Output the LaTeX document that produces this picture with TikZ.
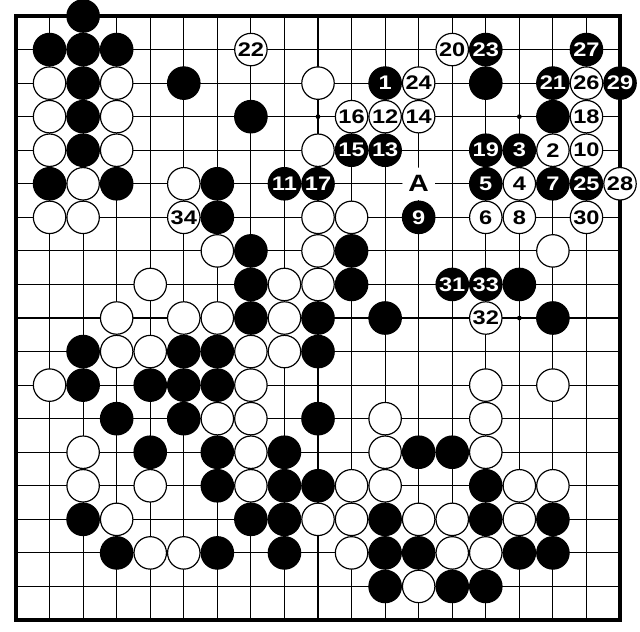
\documentclass[tikz,border=0pt]{standalone}
\usepackage{fontspec}
\setsansfont{Liberation Sans}[FakeStretch=1.2]
\usepackage{tikz}

\begin{document}
\begin{tikzpicture}[
    x=0.6cm, y=-0.6cm,
    gridline/.style={line width=0.6pt},
    border/.style={line width=1.7pt},
    every node/.style={font=\sffamily\bfseries\fontsize{10}{10}\selectfont,
circle, inner sep=0pt, minimum size=0.58cm},
    bstone/.style={fill=black, draw=black, line width=0.6pt, text=white},
    wstone/.style={fill=white, draw=black, line width=0.6pt, text=black},
    hoshi/.style={fill=black, minimum size=2.4pt},
    marker/.style={fill=white, font=\sffamily\bfseries\fontsize{12}{12}\selectfont}]

    \useasboundingbox (-0.477,-0.477) rectangle (18.596,18.33);

    % board
    \foreach \i in {0,...,18} {
        \draw[gridline] (\i,0) -- (\i,18);
        \draw[gridline] (0,\i) -- (18,\i);
    }
    \draw[border] (0,0) rectangle (18,18);
    \foreach \c/\r in {3/3,9/3,15/3,3/9,9/9,15/9,3/15,9/15,15/15}
        \node[hoshi] (h\c-\r) at (\c,\r) {};

    % stones already on the board
    \foreach \c/\r in {2/0, 1/1,2/1,3/1, 2/2,5/2,14/2, 2/3,7/3,16/3, 2/4,
        1/5,3/5,6/5, 6/6, 7/7,10/7, 7/8,10/8,15/8, 7/9,9/9,11/9,16/9,
        2/10,5/10,6/10,9/10, 2/11,4/11,5/11,6/11, 3/12,5/12,9/12,
        4/13,6/13,8/13,12/13,13/13, 6/14,8/14,9/14,14/14,
        2/15,7/15,8/15,11/15,14/15,16/15,
        3/16,6/16,8/16,11/16,12/16,15/16,16/16, 11/17,13/17,14/17}
        \node[bstone] (b\c-\r) at (\c,\r) {};
    \foreach \c/\r in {1/2,3/2,9/2, 1/3,3/3, 1/4,3/4,9/4, 2/5,5/5,
        1/6,2/6,9/6,10/6, 6/7,9/7,16/7, 4/8,8/8,9/8, 3/9,5/9,6/9,8/9,
        3/10,4/10,7/10,8/10, 1/11,7/11,14/11,16/11, 6/12,7/12,11/12,14/12,
        2/13,7/13,11/13,14/13, 2/14,4/14,7/14,10/14,11/14,15/14,16/14,
        3/15,9/15,10/15,12/15,13/15,15/15, 4/16,5/16,10/16,13/16,14/16,
        12/17}
        \node[wstone] (w\c-\r) at (\c,\r) {};

    % moves
    \foreach \n/\c/\r in {1/11/2, 3/15/4, 5/14/5, 7/16/5, 9/12/6, 11/8/5,
        13/11/4, 15/10/4, 17/9/5, 19/14/4, 21/16/2, 23/14/1, 25/17/5,
        27/17/1, 29/18/2, 31/13/8, 33/14/8}
        \node[bstone] (m\n) at (\c,\r) {\n};
    \foreach \n/\c/\r in {2/16/4, 4/15/5, 6/14/6, 8/15/6, 10/17/4, 12/11/3,
        14/12/3, 16/10/3, 18/17/3, 20/13/1, 22/7/1, 24/12/2, 26/17/2,
        28/18/5, 30/17/6, 32/14/9, 34/5/6}
        \node[wstone] (m\n) at (\c,\r) {\n};

    \node[marker] (A) at (12,5) {A};

\end{tikzpicture}
\end{document}
